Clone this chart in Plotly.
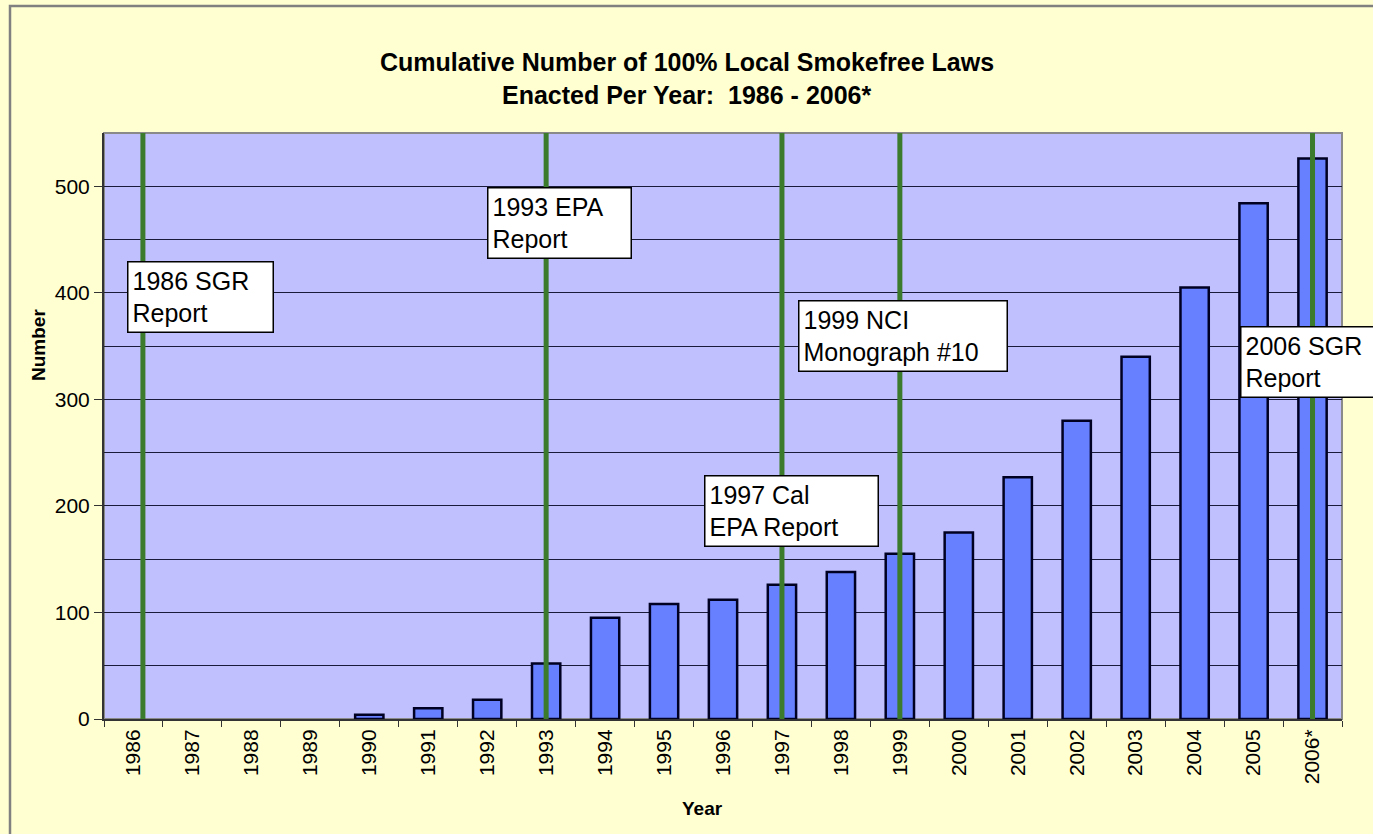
import plotly.graph_objects as go

# ---- data ----
years = ["1986", "1987", "1988", "1989", "1990", "1991", "1992", "1993", "1994", "1995",
         "1996", "1997", "1998", "1999", "2000", "2001", "2002", "2003", "2004", "2005", "2006*"]
laws = [0, 0, 0, 0, 4, 10, 18, 52, 95, 108, 112, 126, 138, 155, 175, 227, 280, 340, 405, 484, 526]

event_years = ["1986", "1993", "1997", "1999", "2006*"]
event_labels = ["1986 SGR<br>Report", "1993 EPA<br>Report", "1997 Cal<br>EPA Report",
                "1999 NCI<br>Monograph #10", "2006 SGR<br>Report"]

title_line1 = "Cumulative Number of 100% Local Smokefree Laws"
title_line2 = "Enacted Per Year:  1986 - 2006*"
x_title = "Year"
y_title = "Number"
y_ticks = [0, 100, 200, 300, 400, 500]

# ---- style ----
FONT = "Liberation Sans, Arial, sans-serif"
PAPER = "#FFFFD2"
PLOT = "#C0C0FF"
BAR = "#6680FF"
GREEN = "#3B7B2B"

W, H = 1373, 834
L, R, T, B = 104, 31, 133, 115
pw, ph = W - L - R, H - T - B


def px_x(px):
    return (px - L) / pw


def px_y(py):
    return (H - B - py) / ph


fig = go.Figure()
fig.add_trace(go.Bar(
    x=years, y=laws, width=0.48, hoverinfo="skip",
    marker=dict(color=BAR, line=dict(color="#000022",
                                     width=[0 if v == 0 else 2.5 for v in laws])),
))

# event line offsets (1986 line drawn slightly right of category centre)
line_offsets = {"1986": 0.16}
# box placement: (x offset in category units from event, top y in data units, box width px)
box_place = {
    "1986": (-0.11, 430, 136),
    "1993": (-1.0, 499, 134),
    "1997": (-1.32, 229, 164),
    "1999": (-1.73, 393, 199),
    "2006*": (-1.23, 369, 140),
}

shapes = []
annotations = []
for ev, lab in zip(event_years, event_labels):
    idx = years.index(ev)
    xe = idx + line_offsets.get(ev, 0)
    shapes.append(dict(type="line", xref="x", yref="y", x0=xe, x1=xe, y0=-4, y1=550,
                       line=dict(color=GREEN, width=5), layer="above"))
    dx, ytop, bw = box_place[ev]
    annotations.append(dict(
        x=idx + dx, y=ytop, xref="x", yref="y", xanchor="left", yanchor="top",
        text=lab, showarrow=False, align="left", width=bw,
        font=dict(family=FONT, size=25, color="black"),
        bgcolor="white", bordercolor="black", borderwidth=1.5, borderpad=4,
    ))

# plot frame (gray) and outer chart border
shapes.append(dict(type="rect", xref="paper", yref="paper", x0=0, x1=1, y0=0, y1=1,
                   line=dict(color="#8A8A8A", width=2), layer="below"))
shapes.append(dict(type="rect", xref="paper", yref="paper",
                   x0=px_x(10), x1=px_x(W + 20), y0=px_y(H + 20), y1=px_y(6),
                   line=dict(color="#808080", width=2.5), layer="below"))

annotations += [
    dict(x=px_x(686.5), y=px_y(62), xref="paper", yref="paper", text="<b>" + title_line1 + "</b>",
         showarrow=False, xanchor="center", yanchor="middle",
         font=dict(family=FONT, size=25, color="black")),
    dict(x=px_x(686.5), y=px_y(95), xref="paper", yref="paper",
         text="<b>" + title_line2.replace("  ", "&nbsp; ") + "</b>",
         showarrow=False, xanchor="center", yanchor="middle",
         font=dict(family=FONT, size=25, color="black")),
    dict(x=px_x(38), y=px_y(345), xref="paper", yref="paper", text="<b>" + y_title + "</b>",
         showarrow=False, textangle=-90, xanchor="center", yanchor="middle",
         font=dict(family=FONT, size=19, color="black")),
    dict(x=px_x(702), y=px_y(808), xref="paper", yref="paper", text="<b>" + x_title + "</b>",
         showarrow=False, xanchor="center", yanchor="middle",
         font=dict(family=FONT, size=19, color="black")),
]

fig.update_layout(
    width=W, height=H,
    margin=dict(l=L, r=R, t=T, b=B, pad=0),
    paper_bgcolor=PAPER, plot_bgcolor=PLOT,
    showlegend=False, hovermode=False,
    shapes=shapes, annotations=annotations,
    font=dict(family=FONT, size=21, color="black"),
)
fig.update_xaxes(
    type="category", range=[-0.5, 20.5], tickangle=-90, tickson="boundaries",
    ticks="outside", ticklen=6, tickcolor="#333333", showgrid=False,
    showline=True, linecolor="#333333", linewidth=2,
    tickfont=dict(family=FONT, size=21, color="black"), fixedrange=True,
)
fig.update_yaxes(
    range=[0, 550], tickmode="array", tickvals=y_ticks, ticks="outside", ticklen=8,
    tickcolor="#333333", showgrid=True, gridcolor="#1A1A3A", gridwidth=1,
    minor=dict(dtick=50, tick0=0, showgrid=True, gridcolor="#1A1A3A", gridwidth=1),
    showline=True, linecolor="#333333", linewidth=2, zeroline=False,
    tickfont=dict(family=FONT, size=21, color="black"), fixedrange=True,
)

fig.write_html("out.html", config={"displayModeBar": False},
               post_script="document.body.style.margin='0';")
